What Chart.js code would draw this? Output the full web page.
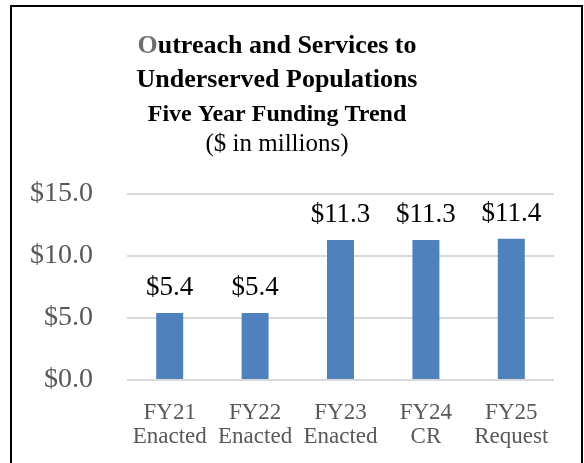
<!DOCTYPE html>
<html>
<head>
<meta charset="utf-8">
<script src="https://cdn.jsdelivr.net/npm/chart.js@4/dist/chart.umd.min.js"></script>
<style>
  html, body { margin: 0; padding: 0; background: #fff; }
  #wrap { position: relative; width: 584px; height: 463px; overflow: hidden; }
  #frame { position: absolute; left: 10px; top: 5px; width: 569px; height: 480px; border: 2px solid #000; pointer-events: none; }
  canvas { position: absolute; left: 0; top: 0; }
</style>
</head>
<body>
<div id="wrap">
  <canvas id="c" width="584" height="463"></canvas>
  <div id="frame"></div>
</div>
<script>
// ---- data ----
const categories = [["FY21", "Enacted"], ["FY22", "Enacted"], ["FY23", "Enacted"], ["FY24", "CR"], ["FY25", "Request"]];
const values = [5.4, 5.4, 11.3, 11.3, 11.4];
const yTicks = [0, 5, 10, 15];
const titleLines = ["Outreach and Services to", "Underserved Populations", "Five Year Funding Trend", "($ in millions)"];

const SERIF = '"Liberation Serif", "Times New Roman", Times, serif';

const titlePlugin = {
  id: 'customTitle',
  afterDraw(chart) {
    const ctx = chart.ctx;
    const cx = 277;
    const styles = [
      { font: 'bold 26px ' + SERIF, y: 53 },
      { font: 'bold 26px ' + SERIF, y: 87 },
      { font: 'bold 24px ' + SERIF, y: 121 },
      { font: '25px ' + SERIF, y: 151 }
    ];
    ctx.save();
    ctx.textBaseline = 'alphabetic';
    ctx.textAlign = 'left';
    titleLines.forEach((t, i) => {
      const s = styles[i];
      ctx.font = s.font;
      const w = ctx.measureText(t).width;
      let x = cx - w / 2;
      if (i === 0) {
        const first = t.charAt(0), rest = t.slice(1);
        ctx.fillStyle = '#6e6e6e';
        ctx.fillText(first, x, s.y);
        x += ctx.measureText(first).width;
        ctx.fillStyle = '#000';
        ctx.fillText(rest, x, s.y);
      } else {
        ctx.fillStyle = '#000';
        ctx.fillText(t, x, s.y);
      }
    });
    ctx.restore();
  }
};

const dataLabelPlugin = {
  id: 'dataLabels',
  afterDatasetsDraw(chart) {
    const ctx = chart.ctx;
    const meta = chart.getDatasetMeta(0);
    ctx.save();
    ctx.font = '27px ' + SERIF;
    ctx.fillStyle = '#000';
    ctx.textAlign = 'center';
    ctx.textBaseline = 'alphabetic';
    meta.data.forEach((bar, i) => {
      const v = chart.data.datasets[0].data[i];
      ctx.fillText('$' + v.toFixed(1), bar.x, bar.y - 18);
    });
    ctx.restore();
  }
};

new Chart(document.getElementById('c'), {
  type: 'bar',
  data: {
    labels: categories,
    datasets: [{
      data: values,
      backgroundColor: '#4f81bd',
      borderWidth: 0,
      categoryPercentage: 1,
      barPercentage: 0.316
    }]
  },
  options: {
    responsive: false,
    animation: false,
    devicePixelRatio: 1,
    layout: { padding: { top: 194, right: 30, left: 0, bottom: 0 } },
    plugins: {
      legend: { display: false },
      title: { display: false },
      tooltip: { enabled: false }
    },
    scales: {
      x: {
        grid: { display: false },
        border: { display: false },
        ticks: {
          color: '#595959',
          font: { family: SERIF, size: 23, lineHeight: '24px' },
          padding: 13,
          maxRotation: 0,
          autoSkip: false
        },
        afterFit(scale) { scale.height = 83; }
      },
      y: {
        min: 0,
        max: 15,
        afterBuildTicks(scale) { scale.ticks = yTicks.map(v => ({ value: v })); },
        grid: { color: '#d9d9d9', lineWidth: 2, drawTicks: false },
        border: { display: false },
        ticks: {
          color: '#595959',
          font: { family: SERIF, size: 28 },
          padding: 34,
          callback: (v) => '$' + Number(v).toFixed(1)
        },
        afterFit(scale) { scale.width = 127; }
      }
    }
  },
  plugins: [titlePlugin, dataLabelPlugin]
});
</script>
</body>
</html>
